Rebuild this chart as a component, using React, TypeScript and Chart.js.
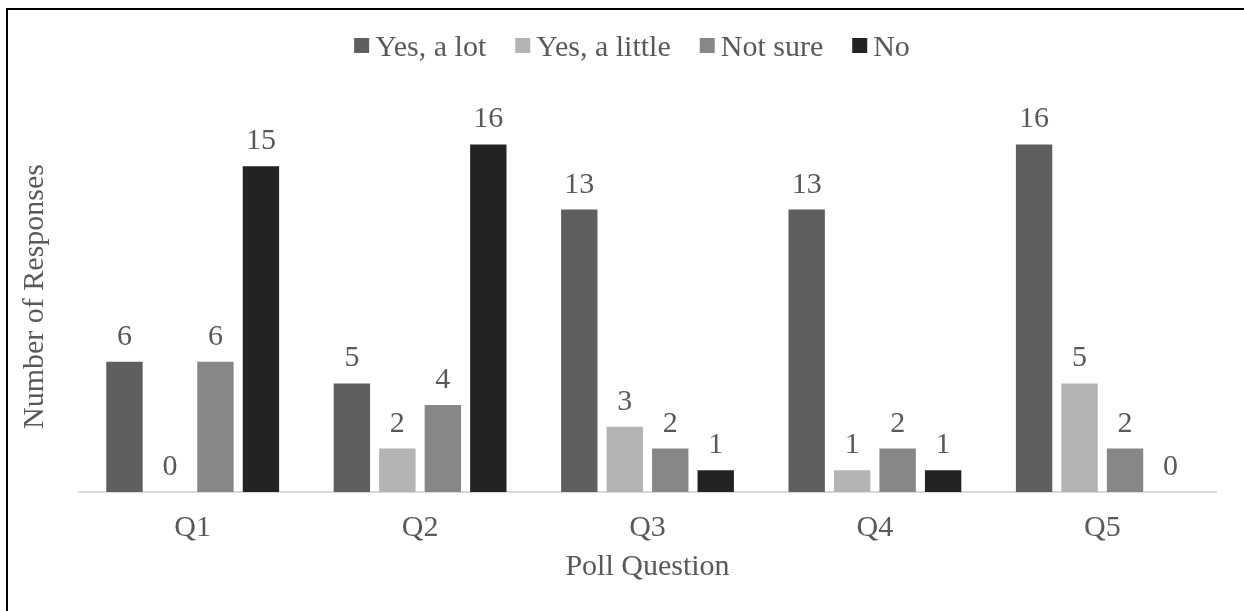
import React, { useEffect, useRef } from "react";
import { Chart, registerables } from "chart.js";

Chart.register(...registerables);

const categories = ["Q1", "Q2", "Q3", "Q4", "Q5"];
const yesALot = [6, 5, 13, 13, 16];
const yesALittle = [0, 2, 3, 1, 5];
const notSure = [6, 4, 2, 2, 2];
const noVals = [15, 16, 1, 1, 0];
const seriesNames = ["Yes, a lot", "Yes, a little", "Not sure", "No"];
const seriesColors = ["#5f5f5f", "#b4b4b4", "#878787", "#232323"];

const FONT = '"Liberation Serif", "Times New Roman", serif';
const TEXT = "#595959";
const FS = 30;

const framePlugin = {
  id: "frame",
  beforeDraw(chart: any) {
    const ctx = chart.ctx;
    ctx.save();
    ctx.fillStyle = "#ffffff";
    ctx.fillRect(0, 0, chart.width, chart.height);
    ctx.fillStyle = "#000000";
    ctx.fillRect(6, 8, chart.width - 6, 2);
    ctx.fillRect(6, 8, 2, chart.height - 8);
    ctx.restore();
  },
};

const labelsPlugin = {
  id: "valueLabels",
  afterDatasetsDraw(chart: any) {
    const ctx = chart.ctx;
    ctx.save();
    ctx.font = `${FS}px ${FONT}`;
    ctx.fillStyle = TEXT;
    ctx.textAlign = "center";
    ctx.textBaseline = "alphabetic";
    chart.data.datasets.forEach((ds: any, i: number) => {
      const meta = chart.getDatasetMeta(i);
      meta.data.forEach((bar: any, j: number) => {
        ctx.fillText(String(ds.data[j]), bar.x, bar.y - 17);
      });
    });
    ctx.restore();
  },
};

const legendPlugin = {
  id: "customLegend",
  afterDraw(chart: any) {
    const ctx = chart.ctx;
    ctx.save();
    ctx.font = `${FS}px ${FONT}`;
    const box = 15;
    const gapText = 6;
    const gapItem = 29;
    const widths = seriesNames.map((n) => ctx.measureText(n).width);
    const total =
      widths.reduce((a, w) => a + box + gapText + w, 0) + gapItem * (seriesNames.length - 1);
    let x = 632 - total / 2;
    const baseline = 56;
    seriesNames.forEach((n, i) => {
      ctx.fillStyle = seriesColors[i];
      ctx.fillRect(x, 38, box, box);
      x += box + gapText;
      ctx.fillStyle = TEXT;
      ctx.textAlign = "left";
      ctx.textBaseline = "alphabetic";
      ctx.fillText(n, x, baseline);
      x += widths[i] + gapItem;
    });
    ctx.restore();
  },
};

export default function App() {
  const ref = useRef<HTMLCanvasElement | null>(null);
  useEffect(() => {
    if (!ref.current) return;
    const data = [yesALot, yesALittle, notSure, noVals];
    const chart = new Chart(ref.current, {
      type: "bar",
      data: {
        labels: categories,
        datasets: seriesNames.map((name, i) => ({
          label: name,
          data: data[i],
          backgroundColor: seriesColors[i],
          borderWidth: 0,
          categoryPercentage: 0.8,
          barPercentage: 0.8,
        })),
      },
      options: {
        animation: false,
        responsive: false,
        layout: { padding: { top: 101, left: 0, right: 28, bottom: 0 } },
        plugins: {
          legend: { display: false },
          tooltip: { enabled: false },
        },
        scales: {
          x: {
            grid: { display: false, drawTicks: false },
            border: { display: true, color: "#d9d9d9", width: 2 },
            ticks: {
              color: TEXT,
              font: { family: FONT, size: FS },
              padding: 18,
            },
            title: {
              display: true,
              text: "Poll Question",
              color: TEXT,
              font: { family: FONT, size: FS },
              padding: { top: 0, bottom: 26 },
            },
            afterFit(scale: any) {
              scale.height = 119;
            },
          },
          y: {
            min: 0,
            max: 18,
            grid: { display: false, drawTicks: false },
            border: { display: false },
            ticks: { display: false },
            title: {
              display: true,
              text: "Number of Responses",
              color: TEXT,
              font: { family: FONT, size: FS },
              padding: { top: 17, bottom: 0 },
            },
            afterFit(scale: any) {
              scale.width = 79;
            },
          },
        },
      },
      plugins: [framePlugin, labelsPlugin, legendPlugin],
    });
    return () => chart.destroy();
  }, []);
  return (
    <div style={{ position: "absolute", left: 0, top: 0, width: 1244, height: 611 }}>
      <canvas ref={ref} width={1244} height={611} style={{ display: "block" }} />
    </div>
  );
}
